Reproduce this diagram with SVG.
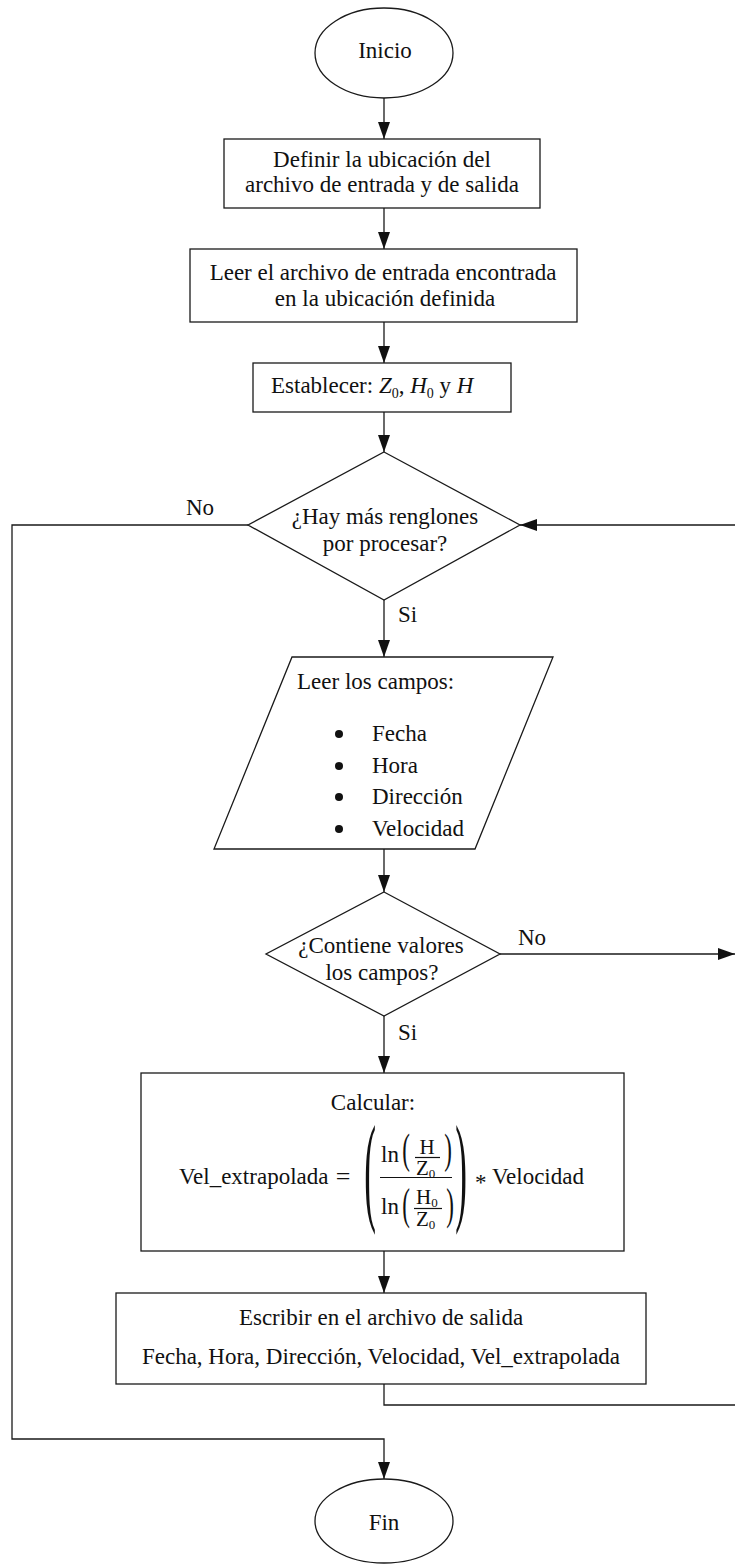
<svg xmlns="http://www.w3.org/2000/svg" width="735" height="1565" viewBox="0 0 735 1565">
<style>
  .shape { fill: #ffffff; stroke: #1a1a1a; stroke-width: 1.3; }
  .line { fill: none; stroke: #1a1a1a; stroke-width: 1.3; }
  .t { font-family: "Liberation Serif", "Times New Roman", serif; font-size: 23px; fill: #111111; }
  .m { text-anchor: middle; }
  .it { font-style: italic; }
  .sub { font-size: 14px; }
  .fr { font-size: 21px; }
  .frs { font-size: 13px; }
  .bar { stroke: #111111; stroke-width: 1.2; }
</style>
<defs>
  <marker id="ah" markerUnits="userSpaceOnUse" markerWidth="17" markerHeight="12" refX="17" refY="6" orient="auto">
    <path d="M0,0 L17,6 L0,12 Z" fill="#111111"/>
  </marker>
</defs>
<rect width="735" height="1565" fill="#ffffff"/>

<g id="connectors">
  <path class="line" d="M384,98 V139" marker-end="url(#ah)"/>
  <path class="line" d="M384,208 V249" marker-end="url(#ah)"/>
  <path class="line" d="M384,322 V363" marker-end="url(#ah)"/>
  <path class="line" d="M384,412 V452" marker-end="url(#ah)"/>
  <path class="line" d="M384,600 V657" marker-end="url(#ah)"/>
  <path class="line" d="M384,849 V892" marker-end="url(#ah)"/>
  <path class="line" d="M384,1016 V1073" marker-end="url(#ah)"/>
  <path class="line" d="M384,1251 V1293" marker-end="url(#ah)"/>
  <path class="line" d="M248,525 H12 V1439 H384 V1479" marker-end="url(#ah)"/>
  <path class="line" d="M384,1384 V1405 H738 V525 H520" marker-end="url(#ah)"/>
  <path class="line" d="M500,954 H735" marker-end="url(#ah)"/>
  <text class="t" x="186" y="515">No</text>
  <text class="t" x="398" y="622">Si</text>
  <text class="t" x="518" y="945">No</text>
  <text class="t" x="398" y="1040">Si</text>
</g>

<g id="inicio">
  <ellipse class="shape" cx="384" cy="53" rx="69" ry="45"/>
  <text class="t m" x="385" y="58">Inicio</text>
</g>

<g id="definir">
  <rect class="shape" x="224" y="139" width="316" height="69"/>
  <text class="t m" x="382" y="167">Definir la ubicación del</text>
  <text class="t m" x="382" y="192">archivo de entrada y de salida</text>
</g>

<g id="leer-archivo">
  <rect class="shape" x="190" y="249" width="387" height="73"/>
  <text class="t m" x="383" y="280">Leer el archivo de entrada encontrada</text>
  <text class="t m" x="385" y="306">en la ubicación definida</text>
</g>

<g id="establecer">
  <rect class="shape" x="253" y="363" width="258" height="49"/>
  <text class="t" x="271" y="393">Establecer: <tspan class="it">Z</tspan><tspan class="sub" dy="5">0</tspan><tspan dy="-5">, </tspan><tspan class="it">H</tspan><tspan class="sub" dy="5">0</tspan><tspan dy="-5"> y </tspan><tspan class="it">H</tspan></text>
</g>

<g id="hay-mas">
  <polygon class="shape" points="384,452 520,525 384,600 248,525"/>
  <text class="t m" x="385" y="524">¿Hay más renglones</text>
  <text class="t m" x="385" y="551">por procesar?</text>
</g>

<g id="leer-campos">
  <polygon class="shape" points="292,657 553,657 475,849 214,849"/>
  <text class="t" x="297" y="689">Leer los campos:</text>
  <circle cx="339" cy="734" r="4" fill="#111111"/>
  <circle cx="339" cy="766" r="4" fill="#111111"/>
  <circle cx="339" cy="797" r="4" fill="#111111"/>
  <circle cx="339" cy="829" r="4" fill="#111111"/>
  <text class="t" x="372" y="741">Fecha</text>
  <text class="t" x="372" y="773">Hora</text>
  <text class="t" x="372" y="804">Dirección</text>
  <text class="t" x="372" y="836">Velocidad</text>
</g>

<g id="contiene">
  <polygon class="shape" points="384,892 500,954 384,1016 266,954"/>
  <text class="t m" x="381" y="953">¿Contiene valores</text>
  <text class="t m" x="382" y="980">los campos?</text>
</g>

<g id="calcular">
  <rect class="shape" x="141" y="1073" width="483" height="178"/>
  <text class="t m" x="373" y="1110">Calcular:</text>
  <text class="t" x="179" y="1184">Vel_extrapolada</text>
  <text class="t m" x="343" y="1185" style="font-size:26px">=</text>
  <text class="t m" transform="translate(370,1209) scale(0.8,2.73)" style="font-size:44px" x="0" y="0">(</text>
  <text class="t m" transform="translate(461,1209) scale(0.8,2.73)" style="font-size:44px" x="0" y="0">)</text>
  <line class="bar" x1="380" y1="1177.5" x2="452" y2="1177.5"/>
  <text class="t" x="381" y="1162">ln</text>
  <text class="t m" transform="translate(406,1163) scale(1,1.8)" x="0" y="0">(</text>
  <text class="t m" transform="translate(448,1163) scale(1,1.8)" x="0" y="0">)</text>
  <text class="t fr m" x="427" y="1154">H</text>
  <line class="bar" x1="415" y1="1157.5" x2="440" y2="1157.5"/>
  <text class="t fr" x="416" y="1175">Z<tspan class="frs" dy="3">0</tspan></text>
  <text class="t" x="381" y="1214">ln</text>
  <text class="t m" transform="translate(406,1219) scale(1,1.9)" x="0" y="0">(</text>
  <text class="t m" transform="translate(450,1219) scale(1,1.9)" x="0" y="0">)</text>
  <text class="t fr" x="416" y="1204">H<tspan class="frs" dy="3">0</tspan></text>
  <line class="bar" x1="414" y1="1208.5" x2="442" y2="1208.5"/>
  <text class="t fr" x="416" y="1226">Z<tspan class="frs" dy="3">0</tspan></text>
  <text class="t" x="475" y="1190">*</text>
  <text class="t" x="492" y="1184">Velocidad</text>
</g>

<g id="escribir">
  <rect class="shape" x="116" y="1293" width="530" height="91"/>
  <text class="t m" x="381" y="1325">Escribir en el archivo de salida</text>
  <text class="t m" x="381" y="1364">Fecha, Hora, Dirección, Velocidad, Vel_extrapolada</text>
</g>

<g id="fin">
  <ellipse class="shape" cx="384" cy="1521" rx="69" ry="42"/>
  <text class="t m" x="384" y="1530">Fin</text>
</g>
</svg>
